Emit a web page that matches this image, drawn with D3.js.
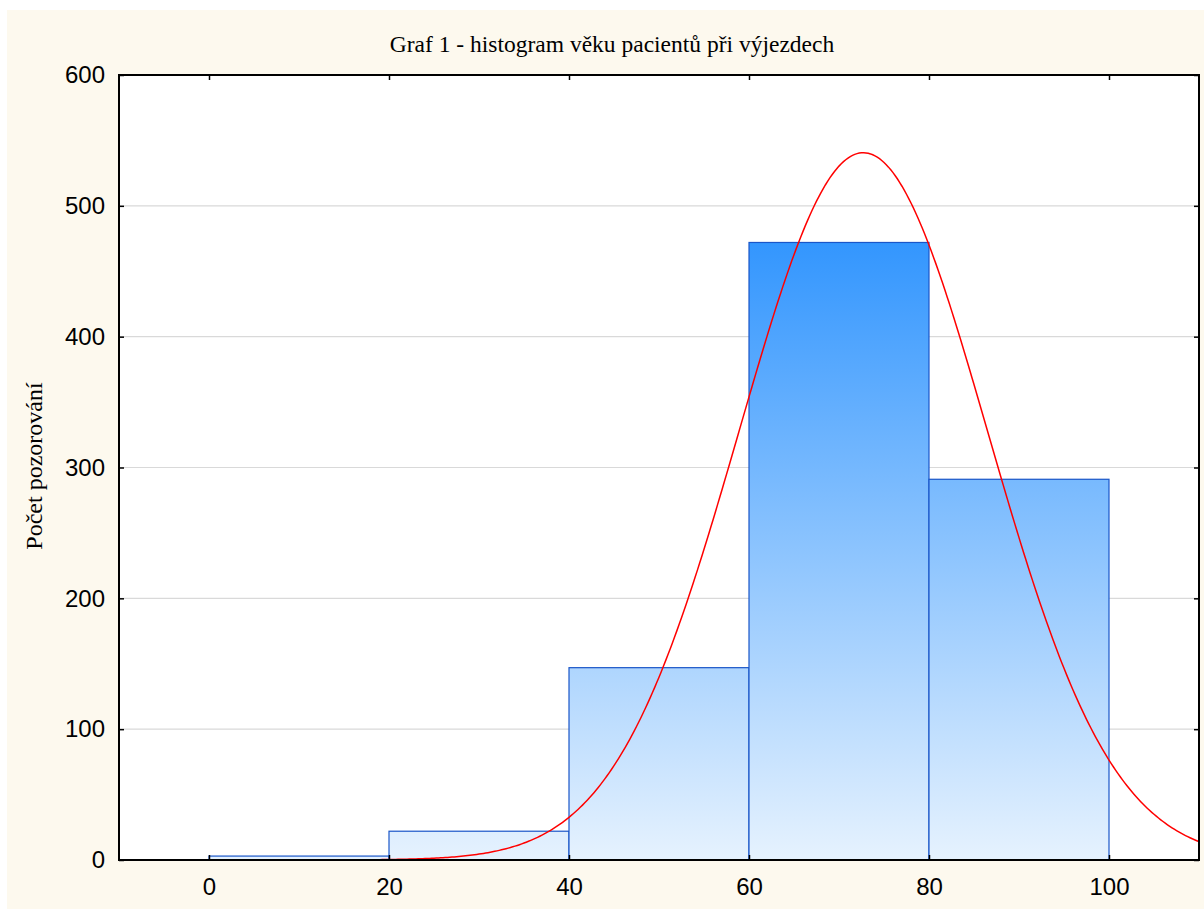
<!DOCTYPE html>
<html><head><meta charset="utf-8">
<script src="https://cdn.jsdelivr.net/npm/d3@7"></script>
<style>html,body{margin:0;padding:0;background:#fff;}svg{display:block;}</style>
</head><body>
<script>
// Data
const binStarts = [0, 20, 40, 60, 80];
const binWidth = 20;
const counts = [3, 22, 147, 472, 291];
const xTicks = [0, 20, 40, 60, 80, 100];
const yTicks = [0, 100, 200, 300, 400, 500, 600];
// Fitted normal curve parameters
const fitMean = 72.7;
const fitSd = 13.8;
const title = "Graf 1 - histogram věku pacientů při výjezdech";
const yLabel = "Počet pozorování";

const W = 1204, H = 909;
const m = {left: 119, right: 1199, top: 75, bottom: 860};
const svg = d3.select("body").append("svg").attr("width", W).attr("height", H);

svg.append("rect").attr("x", 7).attr("y", 10).attr("width", W - 7).attr("height", H - 10).attr("fill", "#fdf9ee");

const x = d3.scaleLinear().domain([-10, 110]).range([m.left, m.right]);
const y = d3.scaleLinear().domain([0, 600]).range([m.bottom, m.top]);

svg.append("rect").attr("x", m.left).attr("y", m.top).attr("width", m.right - m.left).attr("height", m.bottom - m.top).attr("fill", "#fff");

// grid
svg.append("g").selectAll("line").data(yTicks.filter(d => d > 0 && d < 600)).join("line")
  .attr("x1", m.left).attr("x2", m.right).attr("y1", d => y(d)).attr("y2", d => y(d))
  .attr("stroke", "#d9d9d9").attr("stroke-width", 1.2);

// gradient
const defs = svg.append("defs");
const grad = defs.append("linearGradient").attr("id", "barGrad").attr("gradientUnits", "userSpaceOnUse")
  .attr("x1", 0).attr("x2", 0).attr("y1", y(d3.max(counts))).attr("y2", y(0));
grad.append("stop").attr("offset", "0%").attr("stop-color", "#3396fe");
grad.append("stop").attr("offset", "100%").attr("stop-color", "#e6f2fe");

const bins = binStarts.map((s, i) => ({x0: s, x1: s + binWidth, n: counts[i]}));
svg.append("g").selectAll("rect").data(bins).join("rect")
  .attr("x", d => x(d.x0)).attr("width", d => x(d.x1) - x(d.x0))
  .attr("y", d => y(d.n)).attr("height", d => y(0) - y(d.n))
  .attr("fill", "url(#barGrad)").attr("stroke", "#1a56c8").attr("stroke-width", 1.2);

// normal curve
const N = d3.sum(counts);
const curveX = d3.range(-10, 110.01, 0.25);
const pdf = v => N * binWidth / (fitSd * Math.sqrt(2 * Math.PI)) * Math.exp(-0.5 * ((v - fitMean) / fitSd) ** 2);
const line = d3.line().x(d => x(d)).y(d => y(pdf(d)));
svg.append("clipPath").attr("id", "clip").append("rect").attr("x", m.left).attr("y", m.top).attr("width", m.right - m.left).attr("height", m.bottom - m.top);
svg.append("path").datum(curveX).attr("d", line).attr("fill", "none").attr("stroke", "#ff0000").attr("stroke-width", 1.5).attr("clip-path", "url(#clip)");

// frame
svg.append("rect").attr("x", m.left).attr("y", m.top).attr("width", m.right - m.left).attr("height", m.bottom - m.top)
  .attr("fill", "none").attr("stroke", "#000").attr("stroke-width", 2);

// axes (ticks inward)
const axB = svg.append("g").attr("transform", `translate(0,${m.bottom})`)
  .call(d3.axisBottom(x).tickValues(xTicks).tickSizeInner(-5).tickSizeOuter(0).tickPadding(18));
const axT = svg.append("g").attr("transform", `translate(0,${m.top})`)
  .call(d3.axisTop(x).tickValues(xTicks).tickSizeInner(-5).tickSizeOuter(0).tickFormat(""));
const axL = svg.append("g").attr("transform", `translate(${m.left},0)`)
  .call(d3.axisLeft(y).tickValues(yTicks).tickSizeInner(-5).tickSizeOuter(0).tickPadding(14));
const axR = svg.append("g").attr("transform", `translate(${m.right},0)`)
  .call(d3.axisRight(y).tickValues(yTicks).tickSizeInner(-5).tickSizeOuter(0).tickFormat(""));
[axB, axT, axL, axR].forEach(a => {
  a.select(".domain").remove();
  a.selectAll(".tick line").attr("stroke", "#000").attr("stroke-width", 1.5);
  a.selectAll("text").attr("font-family", "Liberation Sans, Arial, sans-serif").attr("font-size", 24).attr("fill", "#000");
});

svg.append("text").attr("x", 612).attr("y", 52).attr("text-anchor", "middle")
  .attr("font-family", "Liberation Serif, Times New Roman, serif").attr("font-size", 23.5).text(title);
svg.append("text").attr("transform", `translate(42,466) rotate(-90)`).attr("text-anchor", "middle")
  .attr("font-family", "Liberation Serif, Times New Roman, serif").attr("font-size", 24).text(yLabel);
</script>
</body></html>
